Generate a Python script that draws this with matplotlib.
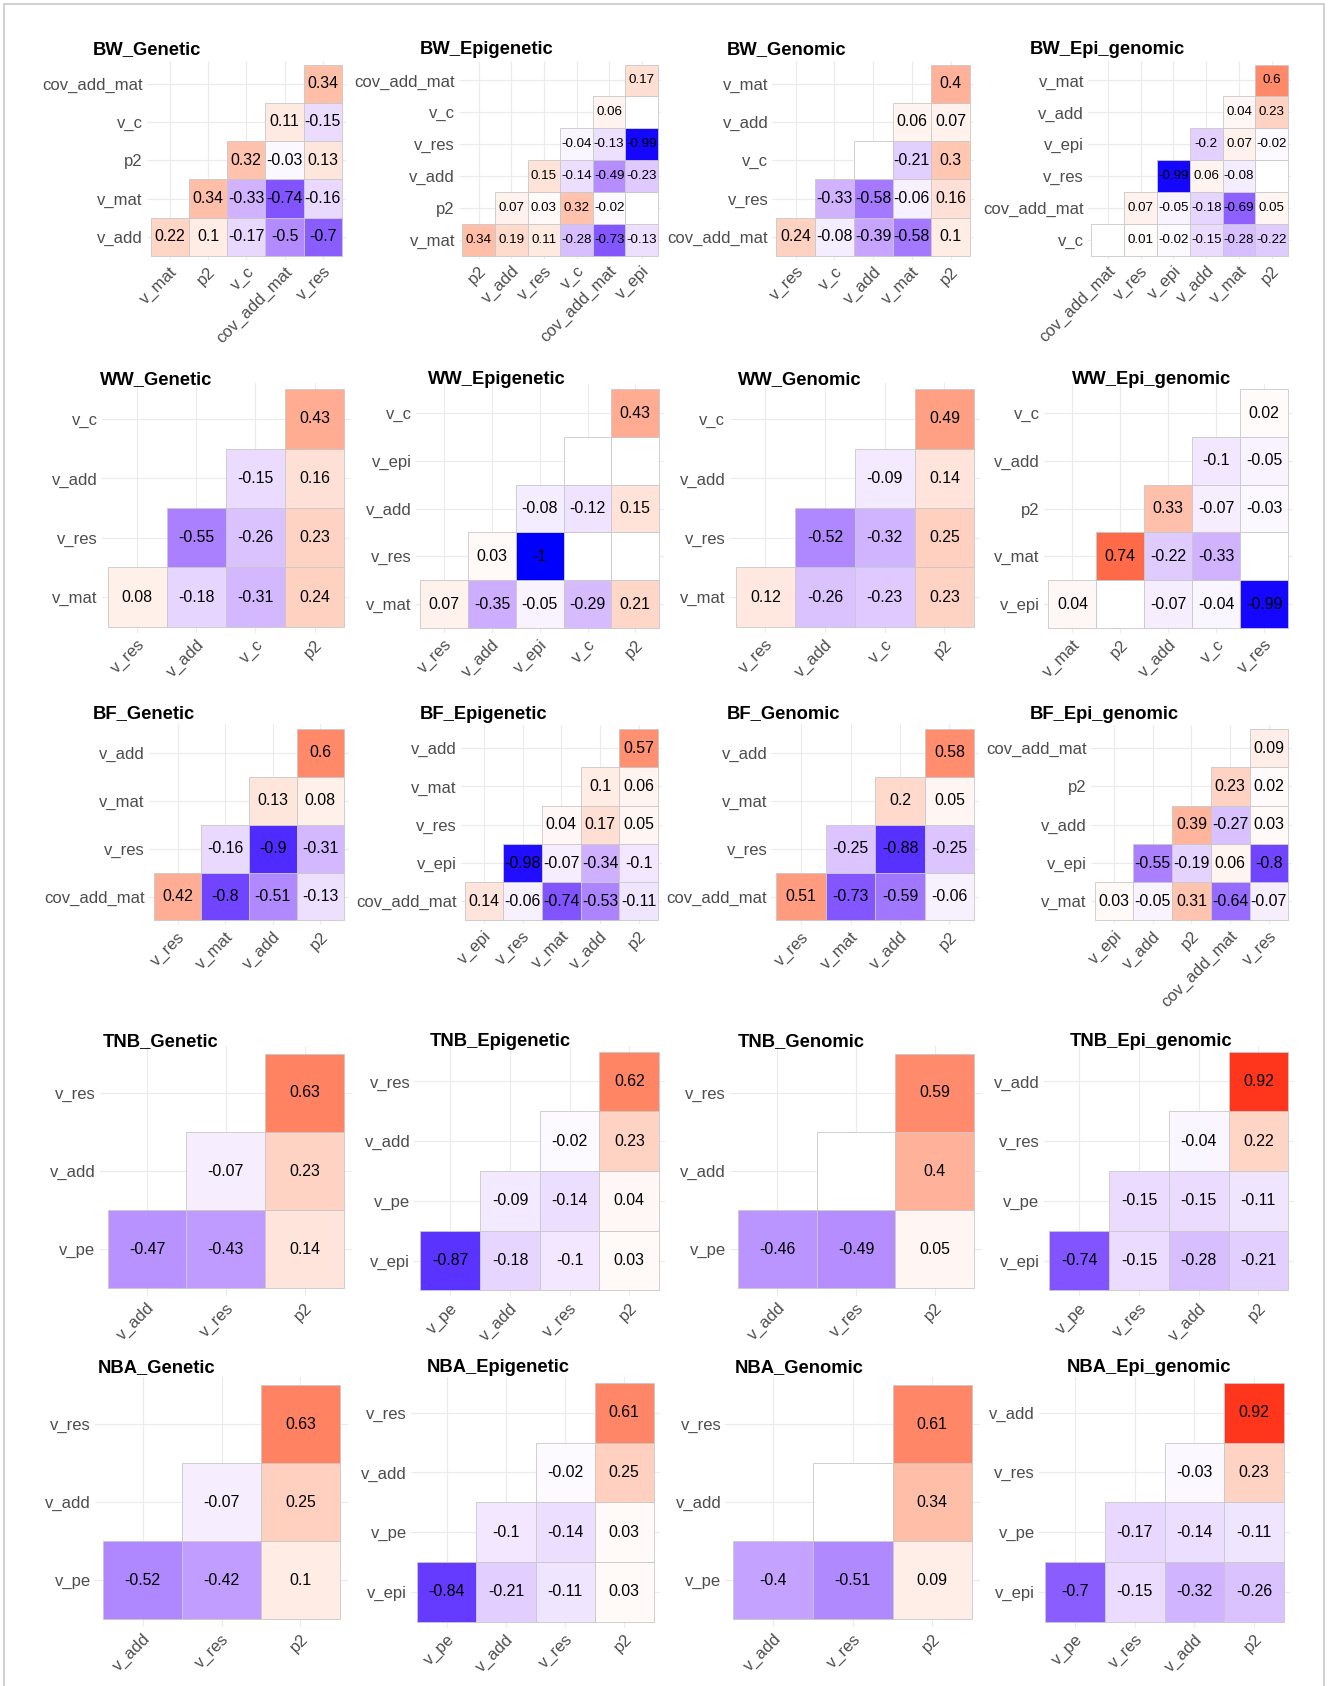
import numpy as np
import matplotlib
matplotlib.use("Agg")
import matplotlib.pyplot as plt
from matplotlib.patches import Rectangle

plt.rcParams['font.family'] = ['Liberation Sans', 'DejaVu Sans']

NA = np.nan

# each panel: x labels, y labels (bottom -> top), rows of values (row i fills columns i..n-1)
bw_genetic_x = ["v_mat", "p2", "v_c", "cov_add_mat", "v_res"]
bw_genetic_y = ["v_add", "v_mat", "p2", "v_c", "cov_add_mat"]
bw_genetic_r = [[0.22, 0.1, -0.17, -0.5, -0.7], [0.34, -0.33, -0.74, -0.16],
                [0.32, -0.03, 0.13], [0.11, -0.15], [0.34]]

bw_epigenetic_x = ["p2", "v_add", "v_res", "v_c", "cov_add_mat", "v_epi"]
bw_epigenetic_y = ["v_mat", "p2", "v_add", "v_res", "v_c", "cov_add_mat"]
bw_epigenetic_r = [[0.34, 0.19, 0.11, -0.28, -0.73, -0.13], [0.07, 0.03, 0.32, -0.02, NA],
                   [0.15, -0.14, -0.49, -0.23], [-0.04, -0.13, -0.99], [0.06, NA], [0.17]]

bw_genomic_x = ["v_res", "v_c", "v_add", "v_mat", "p2"]
bw_genomic_y = ["cov_add_mat", "v_res", "v_c", "v_add", "v_mat"]
bw_genomic_r = [[0.24, -0.08, -0.39, -0.58, 0.1], [-0.33, -0.58, -0.06, 0.16],
                [NA, -0.21, 0.3], [0.06, 0.07], [0.4]]

bw_epigenomic_x = ["cov_add_mat", "v_res", "v_epi", "v_add", "v_mat", "p2"]
bw_epigenomic_y = ["v_c", "cov_add_mat", "v_res", "v_epi", "v_add", "v_mat"]
bw_epigenomic_r = [[NA, 0.01, -0.02, -0.15, -0.28, -0.22], [0.07, -0.05, -0.18, -0.69, 0.05],
                   [-0.99, 0.06, -0.08, NA], [-0.2, 0.07, -0.02], [0.04, 0.23], [0.6]]

ww_genetic_x = ["v_res", "v_add", "v_c", "p2"]
ww_genetic_y = ["v_mat", "v_res", "v_add", "v_c"]
ww_genetic_r = [[0.08, -0.18, -0.31, 0.24], [-0.55, -0.26, 0.23], [-0.15, 0.16], [0.43]]

ww_epigenetic_x = ["v_res", "v_add", "v_epi", "v_c", "p2"]
ww_epigenetic_y = ["v_mat", "v_res", "v_add", "v_epi", "v_c"]
ww_epigenetic_r = [[0.07, -0.35, -0.05, -0.29, 0.21], [0.03, -1, NA, NA],
                   [-0.08, -0.12, 0.15], [NA, NA], [0.43]]

ww_genomic_x = ["v_res", "v_add", "v_c", "p2"]
ww_genomic_y = ["v_mat", "v_res", "v_add", "v_c"]
ww_genomic_r = [[0.12, -0.26, -0.23, 0.23], [-0.52, -0.32, 0.25], [-0.09, 0.14], [0.49]]

ww_epigenomic_x = ["v_mat", "p2", "v_add", "v_c", "v_res"]
ww_epigenomic_y = ["v_epi", "v_mat", "p2", "v_add", "v_c"]
ww_epigenomic_r = [[0.04, NA, -0.07, -0.04, -0.99], [0.74, -0.22, -0.33, NA],
                   [0.33, -0.07, -0.03], [-0.1, -0.05], [0.02]]

bf_genetic_x = ["v_res", "v_mat", "v_add", "p2"]
bf_genetic_y = ["cov_add_mat", "v_res", "v_mat", "v_add"]
bf_genetic_r = [[0.42, -0.8, -0.51, -0.13], [-0.16, -0.9, -0.31], [0.13, 0.08], [0.6]]

bf_epigenetic_x = ["v_epi", "v_res", "v_mat", "v_add", "p2"]
bf_epigenetic_y = ["cov_add_mat", "v_epi", "v_res", "v_mat", "v_add"]
bf_epigenetic_r = [[0.14, -0.06, -0.74, -0.53, -0.11], [-0.98, -0.07, -0.34, -0.1],
                   [0.04, 0.17, 0.05], [0.1, 0.06], [0.57]]

bf_genomic_x = ["v_res", "v_mat", "v_add", "p2"]
bf_genomic_y = ["cov_add_mat", "v_res", "v_mat", "v_add"]
bf_genomic_r = [[0.51, -0.73, -0.59, -0.06], [-0.25, -0.88, -0.25], [0.2, 0.05], [0.58]]

bf_epigenomic_x = ["v_epi", "v_add", "p2", "cov_add_mat", "v_res"]
bf_epigenomic_y = ["v_mat", "v_epi", "v_add", "p2", "cov_add_mat"]
bf_epigenomic_r = [[0.03, -0.05, 0.31, -0.64, -0.07], [-0.55, -0.19, 0.06, -0.8],
                   [0.39, -0.27, 0.03], [0.23, 0.02], [0.09]]

tnb_genetic_x = ["v_add", "v_res", "p2"]
tnb_genetic_y = ["v_pe", "v_add", "v_res"]
tnb_genetic_r = [[-0.47, -0.43, 0.14], [-0.07, 0.23], [0.63]]

tnb_epigenetic_x = ["v_pe", "v_add", "v_res", "p2"]
tnb_epigenetic_y = ["v_epi", "v_pe", "v_add", "v_res"]
tnb_epigenetic_r = [[-0.87, -0.18, -0.1, 0.03], [-0.09, -0.14, 0.04], [-0.02, 0.23], [0.62]]

tnb_genomic_x = ["v_add", "v_res", "p2"]
tnb_genomic_y = ["v_pe", "v_add", "v_res"]
tnb_genomic_r = [[-0.46, -0.49, 0.05], [NA, 0.4], [0.59]]

tnb_epigenomic_x = ["v_pe", "v_res", "v_add", "p2"]
tnb_epigenomic_y = ["v_epi", "v_pe", "v_res", "v_add"]
tnb_epigenomic_r = [[-0.74, -0.15, -0.28, -0.21], [-0.15, -0.15, -0.11], [-0.04, 0.22], [0.92]]

nba_genetic_x = ["v_add", "v_res", "p2"]
nba_genetic_y = ["v_pe", "v_add", "v_res"]
nba_genetic_r = [[-0.52, -0.42, 0.1], [-0.07, 0.25], [0.63]]

nba_epigenetic_x = ["v_pe", "v_add", "v_res", "p2"]
nba_epigenetic_y = ["v_epi", "v_pe", "v_add", "v_res"]
nba_epigenetic_r = [[-0.84, -0.21, -0.11, 0.03], [-0.1, -0.14, 0.03], [-0.02, 0.25], [0.61]]

nba_genomic_x = ["v_add", "v_res", "p2"]
nba_genomic_y = ["v_pe", "v_add", "v_res"]
nba_genomic_r = [[-0.4, -0.51, 0.09], [NA, 0.34], [0.61]]

nba_epigenomic_x = ["v_pe", "v_res", "v_add", "p2"]
nba_epigenomic_y = ["v_epi", "v_pe", "v_res", "v_add"]
nba_epigenomic_r = [[-0.7, -0.15, -0.32, -0.26], [-0.17, -0.14, -0.11], [-0.03, 0.23], [0.92]]

# (title, x, y, rows, tile box in 1235x1568 coords: x0, x1, y0, y1, title x, title y)
panels = [
    ("BW_Genetic", bw_genetic_x, bw_genetic_y, bw_genetic_r, (140, 318, 60, 238, 86, 46)),
    ("BW_Epigenetic", bw_epigenetic_x, bw_epigenetic_y, bw_epigenetic_r, (430, 612, 60, 238, 390, 46)),
    ("BW_Genomic", bw_genomic_x, bw_genomic_y, bw_genomic_r, (722, 902, 60, 238, 676, 46)),
    ("BW_Epi_genomic", bw_epigenomic_x, bw_epigenomic_y, bw_epigenomic_r, (1015, 1198, 60, 238, 958, 46)),
    ("WW_Genetic", ww_genetic_x, ww_genetic_y, ww_genetic_r, (100, 320, 362, 583, 93, 353)),
    ("WW_Epigenetic", ww_epigenetic_x, ww_epigenetic_y, ww_epigenetic_r, (391, 613, 362, 584, 398, 353)),
    ("WW_Genomic", ww_genomic_x, ww_genomic_y, ww_genomic_r, (684, 906, 362, 583, 686, 353)),
    ("WW_Epi_genomic", ww_epigenomic_x, ww_epigenomic_y, ww_epigenomic_r, (975, 1198, 362, 584, 997, 353)),
    ("BF_Genetic", bf_genetic_x, bf_genetic_y, bf_genetic_r, (143, 320, 678, 856, 86, 664)),
    ("BF_Epigenetic", bf_epigenetic_x, bf_epigenetic_y, bf_epigenetic_r, (432, 612, 678, 856, 390, 664)),
    ("BF_Genomic", bf_genomic_x, bf_genomic_y, bf_genomic_r, (722, 906, 678, 856, 676, 664)),
    ("BF_Epi_genomic", bf_epigenomic_x, bf_epigenomic_y, bf_epigenomic_r, (1018, 1198, 678, 856, 958, 664)),
    ("TNB_Genetic", tnb_genetic_x, tnb_genetic_y, tnb_genetic_r, (100, 320, 980, 1198, 96, 969)),
    ("TNB_Epigenetic", tnb_epigenetic_x, tnb_epigenetic_y, tnb_epigenetic_r, (391, 613, 978, 1200, 400, 969)),
    ("TNB_Genomic", tnb_genomic_x, tnb_genomic_y, tnb_genomic_r, (686, 906, 980, 1198, 686, 969)),
    ("TNB_Epi_genomic", tnb_epigenomic_x, tnb_epigenomic_y, tnb_epigenomic_r, (976, 1198, 978, 1200, 995, 969)),
    ("NBA_Genetic", nba_genetic_x, nba_genetic_y, nba_genetic_r, (96, 316, 1288, 1506, 91, 1272)),
    ("NBA_Epigenetic", nba_epigenetic_x, nba_epigenetic_y, nba_epigenetic_r, (388, 608, 1286, 1508, 397, 1272)),
    ("NBA_Genomic", nba_genomic_x, nba_genomic_y, nba_genomic_r, (682, 904, 1288, 1506, 683, 1272)),
    ("NBA_Epi_genomic", nba_epigenomic_x, nba_epigenomic_y, nba_epigenomic_r, (972, 1194, 1286, 1508, 992, 1272)),
]

# ggplot-style gradient2 (blue - white - red) interpolated in Lab space
M = np.array([[0.4124564, 0.3575761, 0.1804375],
              [0.2126729, 0.7151522, 0.0721750],
              [0.0193339, 0.1191920, 0.9503041]])
Minv = np.linalg.inv(M)
WP = np.array([0.95047, 1.0, 1.08883])
D = 6 / 29


def to_lab(rgb):
    c = np.asarray(rgb, float)
    lin = np.where(c <= 0.04045, c / 12.92, ((c + 0.055) / 1.055) ** 2.4)
    t = (M @ lin) / WP
    f = np.where(t > D ** 3, np.cbrt(t), t / (3 * D * D) + 4 / 29)
    return np.array([116 * f[1] - 16, 500 * (f[0] - f[1]), 200 * (f[1] - f[2])])


def to_rgb(lab):
    L, a, b = lab
    fy = (L + 16) / 116
    f = np.array([fy + a / 500, fy, fy - b / 200])
    t = np.where(f > D, f ** 3, 3 * D * D * (f - 4 / 29))
    lin = np.clip(Minv @ (t * WP), 0, 1)
    c = np.where(lin <= 0.0031308, 12.92 * lin, 1.055 * lin ** (1 / 2.4) - 0.055)
    return tuple(np.clip(c, 0, 1))


LAB_W = to_lab([1, 1, 1])
LAB_B = to_lab([0, 0, 1])
LAB_R = to_lab([1, 0, 0])


def fill(v):
    if np.isnan(v):
        return "white"
    end = LAB_B if v < 0 else LAB_R
    return to_rgb(LAB_W + abs(v) * (end - LAB_W))


W, H = 1328, 1686
S = W / 1235.0
fig = plt.figure(figsize=(W / 100, H / 100), dpi=100)

# thin frame around the picture
fig.patches.append(Rectangle((4 / W, -0.01), 1 - 8 / W, 1.01 - 4 / H, transform=fig.transFigure,
                             fill=False, edgecolor="#C8C8C8", lw=1.2))

for title, xl, yl, rows, box in panels:
    x0, x1, y0, y1, tx, ty = box
    n = len(xl)
    cw = (x1 - x0) / n
    ch = (y1 - y0) / n
    left = (x0 - 0.1 * cw) * S / W
    right = (x1 + 0.1 * cw) * S / W
    top = 1 - (y0 - 0.1 * ch) * S / H
    bottom = 1 - (y1 + 0.1 * ch) * S / H
    ax = fig.add_axes([left, bottom, right - left, top - bottom])
    ax.set_xlim(-0.6, n - 0.4)
    ax.set_ylim(-0.6, n - 0.4)
    ax.set_axisbelow(True)
    ax.grid(color="#EBEBEB", lw=0.8)
    # the 6-variable panels have narrow cells, so the numbers get a bit smaller
    lab_size = 9.6 if n >= 6 else 11.4
    for i, row in enumerate(rows):
        for k, v in enumerate(row):
            j = i + k
            ax.add_patch(Rectangle((j - 0.5, i - 0.5), 1, 1, facecolor=fill(v),
                                   edgecolor="#C8C8C8", lw=0.6, zorder=2))
            if not np.isnan(v):
                ax.text(j, i, f"{v:g}", ha="center", va="center", fontsize=lab_size,
                        color="black", zorder=3)
    ax.set_xticks(range(n))
    ax.set_yticks(range(n))
    ax.set_xticklabels(xl, rotation=45, ha="right", va="top", rotation_mode="anchor")
    ax.set_yticklabels(yl)
    ax.tick_params(length=0, labelsize=12, labelcolor="#4D4D4D", pad=3)
    for sp in ax.spines.values():
        sp.set_visible(False)
    fig.text(tx * S / W, 1 - ty * S / H, title, ha="left", va="center",
             fontsize=13.2, fontweight="bold", color="black")

fig.savefig("out.png", dpi=100, facecolor="white")
